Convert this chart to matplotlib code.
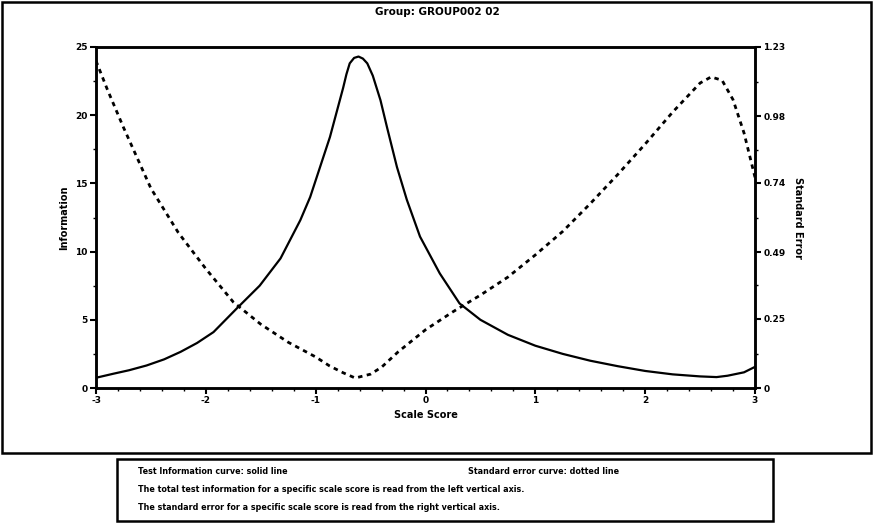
import numpy as np
import matplotlib
matplotlib.use('Agg')
import matplotlib.pyplot as plt
from matplotlib.patches import Rectangle
from matplotlib.ticker import MultipleLocator

plt.rcParams['font.family'] = ['Liberation Sans Narrow', 'DejaVu Sans Condensed', 'DejaVu Sans']
plt.rcParams['font.weight'] = 'bold'

# test information curve (left axis)
info_theta = [-3.0, -2.84, -2.7, -2.54, -2.38, -2.23, -2.08, -1.93, -1.71, -1.51, -1.32,
              -1.23, -1.14, -1.05, -0.96, -0.87, -0.81, -0.75, -0.72, -0.69, -0.65,
              -0.61, -0.57, -0.53, -0.48, -0.41, -0.35, -0.26, -0.17, -0.05, 0.13,
              0.31, 0.5, 0.75, 1.0, 1.25, 1.5, 1.75, 2.0, 2.25, 2.5, 2.65, 2.75, 2.9, 3.0]
info_vals = [0.75, 1.05, 1.3, 1.65, 2.1, 2.65, 3.3, 4.1, 5.9, 7.5, 9.5,
             10.9, 12.3, 14.0, 16.2, 18.4, 20.2, 22.0, 23.0, 23.8, 24.2,
             24.3, 24.15, 23.8, 22.9, 21.1, 19.1, 16.2, 13.8, 11.1, 8.4,
             6.2, 5.0, 3.9, 3.1, 2.5, 2.0, 1.6, 1.25, 1.0, 0.85, 0.8, 0.9, 1.15, 1.55]

# standard error curve (right axis)
se_theta = [-3.0, -2.9, -2.75, -2.5, -2.25, -2.0, -1.75, -1.5, -1.25, -1.0, -0.875,
            -0.75, -0.64, -0.5, -0.4, -0.25, 0.0, 0.25, 0.5, 0.75, 1.0, 1.25, 1.5,
            1.75, 2.0, 2.25, 2.5, 2.6, 2.7, 2.8, 2.9, 3.0]
se_vals = [1.18, 1.08, 0.94, 0.72, 0.56, 0.43, 0.31, 0.23, 0.165, 0.112, 0.08,
           0.055, 0.036, 0.05, 0.075, 0.13, 0.21, 0.275, 0.335, 0.40, 0.48, 0.565, 0.665,
           0.77, 0.88, 0.995, 1.1, 1.122, 1.11, 1.04, 0.92, 0.76]

x_ticks = [-3, -2, -1, 0, 1, 2, 3]
left_ticks = [0, 5, 10, 15, 20, 25]
right_ticks = [0, 0.25, 0.49, 0.74, 0.98, 1.23]
right_labels = ['0', '0.25', '0.49', '0.74', '0.98', '1.23']

W, H = 873, 527
fig = plt.figure(figsize=(W / 100, H / 100), dpi=100)

ax = fig.add_axes([96 / W, 1 - 388 / H, (755 - 96) / W, (388 - 47) / H])
ax2 = ax.twinx()

ax.plot(info_theta, info_vals, color='black', lw=1.6)
ax2.plot(se_theta, se_vals, color='black', lw=2.0, linestyle=(0, (1.6, 1.6)))

ax.set_xlim(-3, 3)
ax.set_ylim(0, 25)
ax2.set_ylim(0, 1.23)
ax.set_xticks(x_ticks)
ax.set_xticklabels([str(v) for v in x_ticks])
ax.set_yticks(left_ticks)
ax2.set_yticks(right_ticks)
ax2.set_yticklabels(right_labels)
ax.xaxis.set_minor_locator(MultipleLocator(0.2))
ax.yaxis.set_minor_locator(MultipleLocator(2.5))
ax2.set_yticks([0.123, 0.37, 0.615, 0.86, 1.105], minor=True)

for a in (ax, ax2):
    for s in a.spines.values():
        s.set_linewidth(1.8)
    a.tick_params(which='major', length=4, width=1.5, labelsize=6.5, pad=2)
    a.tick_params(which='minor', length=2, width=1)

ax.set_xlabel('Scale Score', fontsize=7, fontweight='bold', labelpad=3)
ax.set_ylabel('Information', fontsize=7, fontweight='bold', labelpad=4)
ax2.set_ylabel('Standard Error', fontsize=7, fontweight='bold', labelpad=5, rotation=270, va='bottom')

fig.text(437 / W, 1 - 12 / H, 'Group: GROUP002 02', ha='center', va='center', fontsize=7.5, fontweight='bold')

# outer frame
fig.add_artist(Rectangle((2 / W, 1 - 453 / H), (871 - 2) / W, (453 - 2) / H,
                         transform=fig.transFigure, fill=False, lw=1.8, color='black'))

# note box
fig.add_artist(Rectangle((117 / W, 1 - 521 / H), (773 - 117) / W, (521 - 459) / H,
                         transform=fig.transFigure, fill=False, lw=1.8, color='black'))
fs = 5.8
fig.text(138 / W, 1 - 472 / H, 'Test Information curve: solid line', fontsize=fs, va='center', fontweight='bold')
fig.text(468 / W, 1 - 472 / H, 'Standard error curve: dotted line', fontsize=fs, va='center', fontweight='bold')
fig.text(138 / W, 1 - 490 / H,
         'The total test information for a specific scale score is read from the left vertical axis.',
         fontsize=fs, va='center', fontweight='bold')
fig.text(138 / W, 1 - 508 / H,
         'The standard error for a specific scale score is read from the right vertical axis.',
         fontsize=fs, va='center', fontweight='bold')

fig.savefig('out.png', dpi=100)
